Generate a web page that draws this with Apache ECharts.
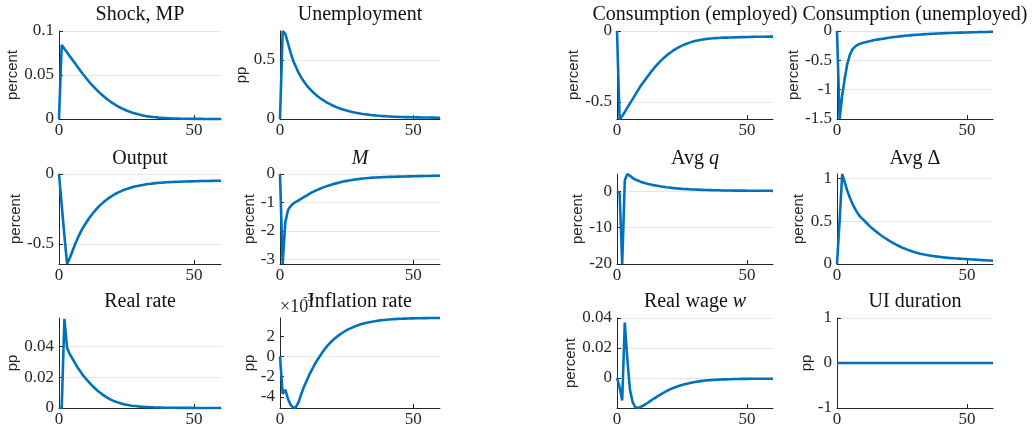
<!DOCTYPE html>
<html><head><meta charset="utf-8">
<script src="https://cdn.jsdelivr.net/npm/echarts@6/dist/echarts.min.js"></script>
<style>html,body{margin:0;padding:0;background:#fff}#c{width:1033px;height:429px}</style>
</head><body><div id="c"></div>
<script>
const periods = Array.from({length: 61}, (_, i) => i);
const xTicks = [0, 50];

const shockMP = [0, 0.084, 0.0798, 0.0756, 0.0714, 0.0672, 0.0630, 0.0588, 0.0546, 0.0505,
 0.0466, 0.0429, 0.0394, 0.0361, 0.0330, 0.0300, 0.0272, 0.0246, 0.0222, 0.0199,
 0.0178, 0.0159, 0.0141, 0.0125, 0.0110, 0.0097, 0.0085, 0.0074, 0.0064, 0.0056,
 0.0048, 0.0041, 0.0035, 0.0030, 0.0026, 0.0022, 0.0019, 0.0016, 0.0014, 0.0012,
 0.0010, 0.00085, 0.00072, 0.0006, 0.0005, 0.00042, 0.00035, 0.00029, 0.00024, 0.0002,
 0.00017, 0.00014, 0.00012, 0.0001, 0.00008, 0.00007, 0.00006, 0.00005, 0.00004, 0.00003, 0.00003];

const unemployment = [0, 0.745, 0.72, 0.64, 0.56, 0.49, 0.44, 0.39, 0.35, 0.315,
 0.285, 0.26, 0.235, 0.215, 0.195, 0.178, 0.162, 0.148, 0.135, 0.123,
 0.112, 0.102, 0.093, 0.085, 0.078, 0.071, 0.065, 0.06, 0.055, 0.051,
 0.047, 0.043, 0.04, 0.037, 0.034, 0.032, 0.03, 0.028, 0.026, 0.0245,
 0.023, 0.0215, 0.02, 0.019, 0.018, 0.017, 0.0165, 0.016, 0.0155, 0.015,
 0.0145, 0.014, 0.0135, 0.013, 0.0127, 0.0124, 0.0121, 0.0118, 0.0115, 0.0112, 0.011];

const consEmployed = [0, -0.62, -0.60, -0.57, -0.54, -0.51, -0.48, -0.45, -0.42, -0.39,
 -0.365, -0.34, -0.315, -0.29, -0.268, -0.246, -0.226, -0.207, -0.19, -0.174,
 -0.159, -0.146, -0.133, -0.122, -0.112, -0.103, -0.095, -0.088, -0.082, -0.076,
 -0.071, -0.067, -0.063, -0.06, -0.057, -0.055, -0.053, -0.051, -0.05, -0.049,
 -0.048, -0.047, -0.0465, -0.046, -0.0455, -0.045, -0.0445, -0.044, -0.0435, -0.043,
 -0.0425, -0.042, -0.0415, -0.041, -0.0408, -0.0405, -0.0402, -0.04, -0.0398, -0.0396, -0.0394];

const consUnemployed = [0, -1.5, -1.1, -0.8, -0.55, -0.4, -0.31, -0.265, -0.235, -0.215,
 -0.2, -0.19, -0.18, -0.17, -0.158, -0.15, -0.143, -0.136, -0.13, -0.122,
 -0.115, -0.108, -0.102, -0.097, -0.092, -0.087, -0.082, -0.078, -0.074, -0.07,
 -0.066, -0.063, -0.06, -0.057, -0.054, -0.051, -0.049, -0.047, -0.045, -0.043,
 -0.041, -0.039, -0.037, -0.035, -0.033, -0.031, -0.029, -0.028, -0.027, -0.026,
 -0.025, -0.023, -0.022, -0.021, -0.02, -0.018, -0.017, -0.016, -0.015, -0.013, -0.012];

const output = [0, -0.22, -0.44, -0.643, -0.6, -0.55, -0.5, -0.455, -0.415, -0.38,
 -0.35, -0.32, -0.295, -0.27, -0.248, -0.228, -0.21, -0.193, -0.178, -0.165,
 -0.152, -0.141, -0.131, -0.122, -0.114, -0.107, -0.101, -0.095, -0.09, -0.086,
 -0.082, -0.078, -0.075, -0.072, -0.07, -0.067, -0.065, -0.063, -0.062, -0.06,
 -0.059, -0.058, -0.057, -0.056, -0.0555, -0.055, -0.054, -0.0535, -0.053, -0.0525,
 -0.052, -0.0515, -0.051, -0.0505, -0.05, -0.0497, -0.0494, -0.049, -0.0487, -0.0484, -0.048];

const matchM = [0, -3.17, -1.7, -1.27, -1.13, -1.04, -0.98, -0.93, -0.87, -0.81,
 -0.76, -0.70, -0.65, -0.60, -0.56, -0.52, -0.48, -0.445, -0.415, -0.385,
 -0.355, -0.33, -0.305, -0.28, -0.26, -0.242, -0.226, -0.211, -0.197, -0.184,
 -0.172, -0.16, -0.15, -0.142, -0.135, -0.129, -0.124, -0.119, -0.114, -0.11,
 -0.106, -0.103, -0.1, -0.097, -0.094, -0.091, -0.089, -0.086, -0.084, -0.082,
 -0.08, -0.078, -0.076, -0.074, -0.072, -0.07, -0.068, -0.066, -0.064, -0.062, -0.06];

const avgQ = [0, -0.5, -20, 3.0, 4.7, 4.2, 3.6, 3.2, 2.9, 2.6,
 2.35, 2.15, 1.97, 1.8, 1.65, 1.52, 1.4, 1.28, 1.18, 1.08,
 0.99, 0.9, 0.82, 0.75, 0.69, 0.63, 0.58, 0.54, 0.5, 0.46,
 0.43, 0.4, 0.37, 0.34, 0.32, 0.3, 0.28, 0.26, 0.24, 0.22,
 0.2, 0.19, 0.18, 0.17, 0.16, 0.15, 0.14, 0.135, 0.13, 0.125,
 0.12, 0.115, 0.11, 0.105, 0.1, 0.097, 0.094, 0.091, 0.088, 0.085, 0.082];

const avgDelta = [0, 0.5, 1.05, 0.95, 0.85, 0.77, 0.7, 0.64, 0.59, 0.55,
 0.52, 0.49, 0.46, 0.43, 0.405, 0.38, 0.355, 0.333, 0.312, 0.292,
 0.273, 0.255, 0.238, 0.222, 0.207, 0.193, 0.18, 0.168, 0.157, 0.147,
 0.137, 0.128, 0.12, 0.113, 0.108, 0.103, 0.098, 0.093, 0.089, 0.085,
 0.081, 0.077, 0.074, 0.071, 0.069, 0.067, 0.065, 0.063, 0.061, 0.059,
 0.057, 0.055, 0.053, 0.051, 0.049, 0.047, 0.045, 0.043, 0.041, 0.04, 0.038];

const realRate = [0, 0, 0.058, 0.039, 0.035, 0.032, 0.029, 0.026, 0.0235, 0.021,
 0.019, 0.017, 0.015, 0.0133, 0.0117, 0.0102, 0.0089, 0.0077, 0.0066, 0.0056,
 0.0048, 0.0041, 0.0035, 0.003, 0.0025, 0.0021, 0.0018, 0.0015, 0.0013, 0.0011,
 0.0009, 0.0008, 0.0007, 0.0006, 0.0005, 0.0004, 0.00035, 0.0003, 0.00025, 0.0002,
 0.00018, 0.00016, 0.00014, 0.00012, 0.0001, 0.00009, 0.00008, 0.00007, 0.00006, 0.00005,
 0.00004, 0.00004, 0.00003, 0.00003, 0.00002, 0.00002, 0.00002, 0.00001, 0.00001, 0.00001, 0];

const inflation = [0, -0.0037, -0.0033, -0.0042, -0.0048, -0.0051, -0.0050, -0.0045, -0.0037, -0.0030,
 -0.0024, -0.0018, -0.0013, -0.0008, -0.00035, 0.00005, 0.00045, 0.0008, 0.00112, 0.0014,
 0.00165, 0.00188, 0.00208, 0.00227, 0.00244, 0.0026, 0.00273, 0.00285, 0.00296, 0.00306,
 0.00315, 0.00323, 0.0033, 0.00336, 0.00341, 0.00346, 0.0035, 0.00354, 0.00357, 0.0036,
 0.00363, 0.00365, 0.00367, 0.00369, 0.00371, 0.00372, 0.00373, 0.00374, 0.00375, 0.00376,
 0.003765, 0.00377, 0.003775, 0.00378, 0.003785, 0.00379, 0.003793, 0.003796, 0.0038, 0.0038, 0.0038];

const realWage = [0, -0.006, -0.015, 0.037, 0.012, -0.008, -0.016, -0.0195, -0.0199, -0.0193,
 -0.0185, -0.0175, -0.0163, -0.0151, -0.014, -0.0129, -0.0118, -0.0107, -0.0097, -0.0088,
 -0.0079, -0.0071, -0.0064, -0.0058, -0.0052, -0.0047, -0.0042, -0.0038, -0.0034, -0.003,
 -0.0027, -0.0024, -0.0021, -0.0019, -0.0017, -0.0015, -0.0014, -0.0013, -0.0012, -0.0011,
 -0.001, -0.0009, -0.0009, -0.0008, -0.0008, -0.0007, -0.0007, -0.0007, -0.0006, -0.0006,
 -0.0006, -0.0005, -0.0005, -0.0005, -0.0005, -0.0005, -0.0005, -0.0005, -0.0005, -0.0005, -0.0005];

const uiDuration = new Array(61).fill(0);

// tick labels per panel
const ticksShock = [0, 0.05, 0.1];
const ticksUnemp = [0, 0.5];
const ticksConsE = [-0.5, 0];
const ticksConsU = [-1.5, -1, -0.5, 0];
const ticksOutput = [-0.5, 0];
const ticksM = [-3, -2, -1, 0];
const ticksQ = [-20, -10, 0];
const ticksDelta = [0, 0.5, 1];
const ticksRate = [0, 0.02, 0.04];
const ticksInfl = [-0.004, -0.002, 0, 0.002];
const ticksWage = [0, 0.02, 0.04];
const ticksUI = [-1, 0, 1];

const panels = [
  {title: 'Shock, MP', data: shockMP, unit: 'percent', ticks: ticksShock, range: [0, 0.1], r: 0, c: 0, gap: 44},
  {title: 'Unemployment', data: unemployment, unit: 'pp', ticks: ticksUnemp, range: [0, 0.745], r: 0, c: 1, gap: 37},
  {title: 'Consumption (employed)', data: consEmployed, unit: 'percent', ticks: ticksConsE, range: [-0.62, 0], r: 0, c: 2, gap: 42},
  {title: 'Consumption (unemployed)', data: consUnemployed, unit: 'percent', ticks: ticksConsU, range: [-1.5, 0], r: 0, c: 3, gap: 44},
  {title: 'Output', data: output, unit: 'percent', ticks: ticksOutput, range: [-0.643, 0], r: 1, c: 0, gap: 43},
  {title: '{i|M}', data: matchM, unit: 'percent', ticks: ticksM, range: [-3.17, 0], r: 1, c: 1, gap: 31},
  {title: 'Avg {i|q}', data: avgQ, unit: 'percent', ticks: ticksQ, range: [-20, 4.7], r: 1, c: 2, gap: 37},
  {title: 'Avg Δ', data: avgDelta, unit: 'percent', ticks: ticksDelta, range: [0, 1.05], r: 1, c: 3, gap: 37},
  {title: 'Real rate', data: realRate, unit: 'pp', ticks: ticksRate, range: [0, 0.0585], r: 2, c: 0, gap: 46},
  {title: 'Inflation rate', data: inflation, unit: 'pp', ticks: ticksInfl, range: [-0.0051, 0.0038], r: 2, c: 1, gap: 30, scale: 1000},
  {title: 'Real wage {i|w}', data: realWage, unit: 'percent', ticks: ticksWage, range: [-0.02, 0.04], r: 2, c: 2, gap: 42},
  {title: 'UI duration', data: uiDuration, unit: 'pp', ticks: ticksUI, range: [-1, 1], r: 2, c: 3, gap: 31}
];

const colLeft = [59, 280, 617, 837];
const colWidth = [162, 160, 156, 156];
const rowTop = [31, 174, 318];
const rowHeight = [88, 90, 90];
const titleY = [15, 159, 302];

const SERIF = '"Liberation Serif", "Times New Roman", serif';
const SANS = '"Liberation Sans", Arial, sans-serif';
const AX = '#262626';
const BLUE = '#0072BD';

function fmt(v, scale) {
  const x = scale ? Math.round(v * scale * 1000) / 1000 : v;
  return String(x);
}

const grid = [], xAxis = [], yAxis = [], series = [], graphic = [];
panels.forEach((p, i) => {
  grid.push({left: colLeft[p.c], top: rowTop[p.r], width: colWidth[p.c], height: rowHeight[p.r]});
  xAxis.push({
    type: 'value', gridIndex: i, min: 0, max: 60, z: 2,
    axisLine: {show: true, onZero: false, lineStyle: {color: AX, width: 1}},
    axisTick: {show: true, inside: true, length: 4, customValues: xTicks, lineStyle: {color: AX}},
    axisLabel: {customValues: xTicks, margin: 3, fontFamily: SERIF, fontSize: 17, color: AX},
    splitLine: {show: false}
  });
  yAxis.push({
    type: 'value', gridIndex: i, min: p.range[0], max: p.range[1], z: 2,
    axisLine: {show: true, onZero: false, lineStyle: {color: AX, width: 1}},
    axisTick: {show: true, inside: true, length: 4, customValues: p.ticks, lineStyle: {color: AX}},
    axisLabel: {customValues: p.ticks, margin: 5, fontFamily: SERIF, fontSize: 17, color: AX,
      formatter: v => fmt(v, p.scale)},
    splitLine: {show: false},
    name: p.unit, nameLocation: 'middle', nameGap: p.gap - 8,
    nameTextStyle: {fontFamily: SANS, fontSize: 15, color: AX}
  });
  series.push({
    type: 'line', xAxisIndex: i, yAxisIndex: i, data: [], z: 1, silent: true,
    markLine: {silent: true, z: 0, symbol: ['none', 'none'], label: {show: false}, animation: false,
      lineStyle: {color: '#e6e6e6', width: 1, type: 'solid'},
      emphasis: {disabled: true},
      data: p.ticks.map(v => ({yAxis: v}))}
  });
  series.push({
    type: 'line', xAxisIndex: i, yAxisIndex: i, z: 3, showSymbol: false, clip: false,
    lineStyle: {color: BLUE, width: 2.6}, itemStyle: {color: BLUE},
    data: periods.map((t, k) => [t, p.data[k]])
  });
  graphic.push({
    type: 'text', x: colLeft[p.c] + colWidth[p.c] / 2, y: titleY[p.r], z: 10,
    style: {text: p.title, fontFamily: SERIF, fontSize: 20, fill: '#111', align: 'center', verticalAlign: 'middle',
      rich: {i: {fontFamily: SERIF, fontSize: 20, fontStyle: 'italic', fill: '#111'}}}
  });
});
graphic.push({type: 'text', x: 280, y: 307, z: 9,
  style: {text: '×10', fontFamily: SERIF, fontSize: 18, fill: AX, align: 'left', verticalAlign: 'middle'}});
graphic.push({type: 'text', x: 303, y: 298, z: 9,
  style: {text: '-3', fontFamily: SERIF, fontSize: 13, fill: AX, align: 'left', verticalAlign: 'middle'}});

const chart = echarts.init(document.getElementById('c'), null, {renderer: 'canvas'});
chart.setOption({animation: false, backgroundColor: '#fff', grid, xAxis, yAxis, series, graphic});
</script></body></html>
